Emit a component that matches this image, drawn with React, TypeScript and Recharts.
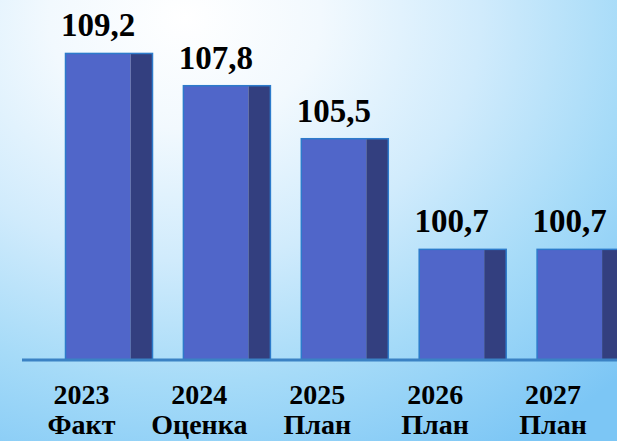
import React from 'react';
import { BarChart, Bar, XAxis, YAxis, LabelList } from 'recharts';

const years = ['2023', '2024', '2025', '2026', '2027'];
const statuses = ['Факт', 'Оценка', 'План', 'План', 'План'];
const values = [109.2, 107.8, 105.5, 100.7, 100.7];

const data = years.map((y, i) => ({ year: y, status: statuses[i], value: values[i] }));

const FRONT = '#5066c9';
const SIDE = '#333f7f';
const EDGE = '#2d7bcb';
const SIDE_W = 22;
const FONT = "'Liberation Serif', 'Times New Roman', Times, serif";

// flat 3d-ish bar: front face + darker right side
const Bar3D = (props: any) => {
    const { x, y, width, height } = props;
    if (!height || height <= 0) return null;
    const fw = width - SIDE_W;
    return (
        <g>
            <rect x={x} y={y} width={fw} height={height} fill={FRONT} />
            <rect x={x + fw} y={y} width={SIDE_W} height={height} fill={SIDE} />
            <rect x={x} y={y} width={width} height={height} fill="none" stroke={EDGE} strokeWidth={1.5} />
        </g>
    );
};

const ValueLabel = (props: any) => {
    const { x, y, width, value } = props;
    const cx = x + (width - SIDE_W) / 2;
    return (
        <text x={cx} y={y - 17} textAnchor="middle" style={{ fontFamily: FONT, fontWeight: 'bold', fontSize: 33 }} fill="#000">
            {String(value).replace('.', ',')}
        </text>
    );
};

const YearTick = (props: any) => {
    const { x, y, payload, index } = props;
    const cx = x - 28;
    const st = { fontFamily: FONT, fontWeight: 'bold', fontSize: 28 } as const;
    return (
        <g>
            <text x={cx} y={y + 36} textAnchor="middle" style={st} fill="#000">
                {payload.value}
            </text>
            <text x={cx} y={y + 66} textAnchor="middle" style={st} fill="#000">
                {statuses[index]}
            </text>
        </g>
    );
};

export default function App() {
    return (
        <div
            style={{
                position: 'absolute',
                left: 0,
                top: 0,
                width: 617,
                height: 441,
                overflow: 'hidden',
                background:
                    'radial-gradient(ellipse 100% 115% at 30% 4%, #ffffff 0%, #f2f9fe 22%, #d0ebfc 48%, #a6dbf8 72%, #7cc6f5 100%)',
            }}
        >
            <BarChart
                width={660}
                height={441}
                data={data}
                margin={{ top: 35, right: 20, bottom: 0, left: 22 }}
                barSize={87}
            >
                <YAxis hide domain={[95.9, 110]} allowDataOverflow />
                <XAxis
                    dataKey="year"
                    height={81}
                    padding={{ left: 28.5, right: 0 }}
                    axisLine={{ stroke: '#3b82c4', strokeWidth: 3 }}
                    tickLine={false}
                    tick={<YearTick />}
                    interval={0}
                />
                <Bar dataKey="value" shape={<Bar3D />} isAnimationActive={false}>
                    <LabelList dataKey="value" content={<ValueLabel />} />
                </Bar>
            </BarChart>
        </div>
    );
}
